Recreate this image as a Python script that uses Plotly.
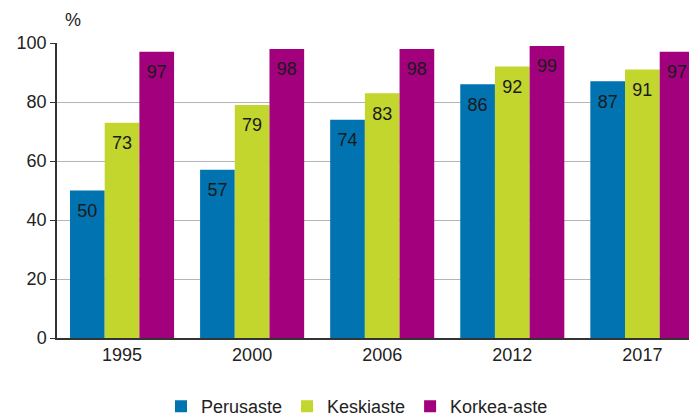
import plotly.graph_objects as go

years = ["1995", "2000", "2006", "2012", "2017"]
perusaste = [50, 57, 74, 86, 87]
keskiaste = [73, 79, 83, 92, 91]
korkea = [97, 98, 98, 99, 97]

names = ["Perusaste", "Keskiaste", "Korkea-aste"]
colors = ["#0073b0", "#c3d62e", "#a3007d"]
series = [perusaste, keskiaste, korkea]

fig = go.Figure()
for i, (n, c, v) in enumerate(zip(names, colors, series)):
    fig.add_trace(go.Bar(
        x=years, y=v, name=n, marker_color=c, marker_line_width=0,
        offsetgroup=str(i), alignmentgroup="a",
    ))
for i, (n, c, v) in enumerate(zip(names, colors, series)):
    fig.add_trace(go.Scatter(
        x=years, y=v, mode="markers+text", showlegend=False,
        offsetgroup=str(i), alignmentgroup="a",
        marker=dict(size=19, opacity=0), text=[str(t) for t in v],
        textposition="bottom center", textfont=dict(size=18, color="#1a1a1a"),
        hoverinfo="skip",
    ))

fig.update_layout(
    width=689, height=409,
    margin=dict(l=49, r=0, t=35, b=79, autoexpand=False),
    paper_bgcolor="white", plot_bgcolor="white",
    barmode="group", bargap=0.2, bargroupgap=0,
    scattermode="group", scattergap=0.2,
    font=dict(family="Liberation Sans, Arial, sans-serif", size=18, color="#222"),
    showlegend=True,
    legend=dict(orientation="h", x=0.1625, xanchor="left", y=-0.17, yanchor="top",
                font=dict(size=18, color="#222"), itemwidth=30,
                traceorder="normal"),
)
fig.update_xaxes(
    type="category", range=[-0.5, 4.42], showgrid=False, automargin=False,
    showline=True, linecolor="#333", linewidth=1.5,
    ticks="", tickfont=dict(size=18, color="#222"),
)
fig.update_yaxes(
    range=[0, 100], dtick=20, showgrid=True, gridcolor="#b4b4b4", gridwidth=1,
    showline=True, linecolor="#333", linewidth=1.5, automargin=False,
    ticks="outside", ticklen=5, tickcolor="#333",
    tickfont=dict(size=18, color="#222"), zeroline=False,
)
fig.add_annotation(text="%", xref="paper", yref="paper", x=0.01, y=1.0,
                   yshift=23, xanchor="left", yanchor="middle",
                   showarrow=False, font=dict(size=18, color="#222"))

fig.write_html("out.html")
